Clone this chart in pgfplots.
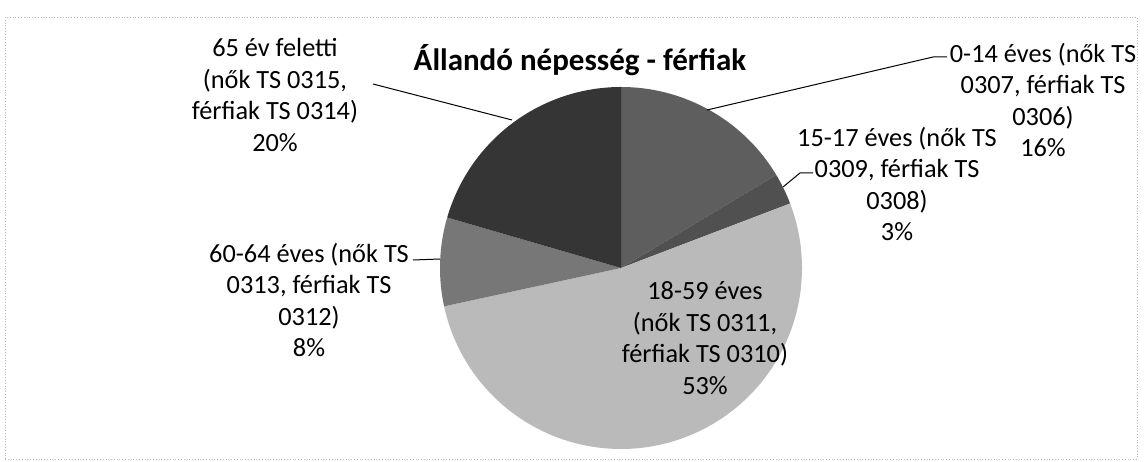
\documentclass[border=0pt]{standalone}
\usepackage{fontspec}
\setmainfont{Carlito}
\usepackage{pgfplots}
\pgfplotsset{compat=1.18}
\usepgfplotslibrary{polar}
\definecolor{cA}{HTML}{5E5E5E}
\definecolor{cB}{HTML}{505050}
\definecolor{cC}{HTML}{BABABA}
\definecolor{cD}{HTML}{777777}
\definecolor{cE}{HTML}{353535}
\begin{document}
\begin{tikzpicture}[x=1bp,y=1bp]
\useasboundingbox (0,0) rectangle (1144,462);
\draw[gray!55, dotted, line width=0.8bp] (5,3) rectangle (1137,445);
\begin{polaraxis}[
  at={(621bp,194bp)}, anchor=origin,
  width=362bp, height=362bp, scale only axis,
  xmin=-360, xmax=360, ymin=0, ymax=1,
  hide axis, clip=false,
]
% percentages clockwise from top: 16.4, 2.8, 52.4, 7.9, 20.5
% slice angles (deg): 90 -> 30.96 -> 20.88 -> -167.76 -> -196.2 -> -270
\addplot[fill=cA, draw=none, domain=30.96:90, samples=80] {1} -- (axis cs:0,0) -- cycle;
\addplot[fill=cB, draw=none, domain=20.88:30.96, samples=20] {1} -- (axis cs:0,0) -- cycle;
\addplot[fill=cC, draw=none, domain=-167.76:20.88, samples=200] {1} -- (axis cs:0,0) -- cycle;
\addplot[fill=cD, draw=none, domain=-196.2:-167.76, samples=30] {1} -- (axis cs:0,0) -- cycle;
\addplot[fill=cE, draw=none, domain=-270:-196.2, samples=80] {1} -- (axis cs:0,0) -- cycle;
\end{polaraxis}
\begin{scope}[every node/.style={inner sep=0pt, align=center, font=\fontsize{26.3bp}{31.5bp}\selectfont}]
\node[font=\fontsize{31bp}{36bp}\selectfont\bfseries] at (580,402) {Állandó népesség - férfiak};
\node at (275,367) {65 év feletti\\(nők TS 0315,\\férfiak TS 0314)\\20\%};
\node at (1043,362) {0-14 éves (nők TS\\0307, férfiak TS\\0306)\\16\%};
\node at (897,278) {15-17 éves (nők TS\\0309, férfiak TS\\0308)\\3\%};
\node at (309,162) {60-64 éves (nők TS\\0313, férfiak TS\\0312)\\8\%};
\node at (705,124) {18-59 éves\\(nők TS 0311,\\férfiak TS 0310)\\53\%};
\end{scope}
\draw[black, line width=1bp] (373,378) -- (512,342);
\draw[black, line width=1bp] (947,405) -- (933,405) -- (707,352);
\draw[black, line width=1bp] (813,289) -- (800,289) -- (783,275);
\draw[black, line width=1bp] (413,202) -- (440,203);
\end{tikzpicture}
\end{document}
